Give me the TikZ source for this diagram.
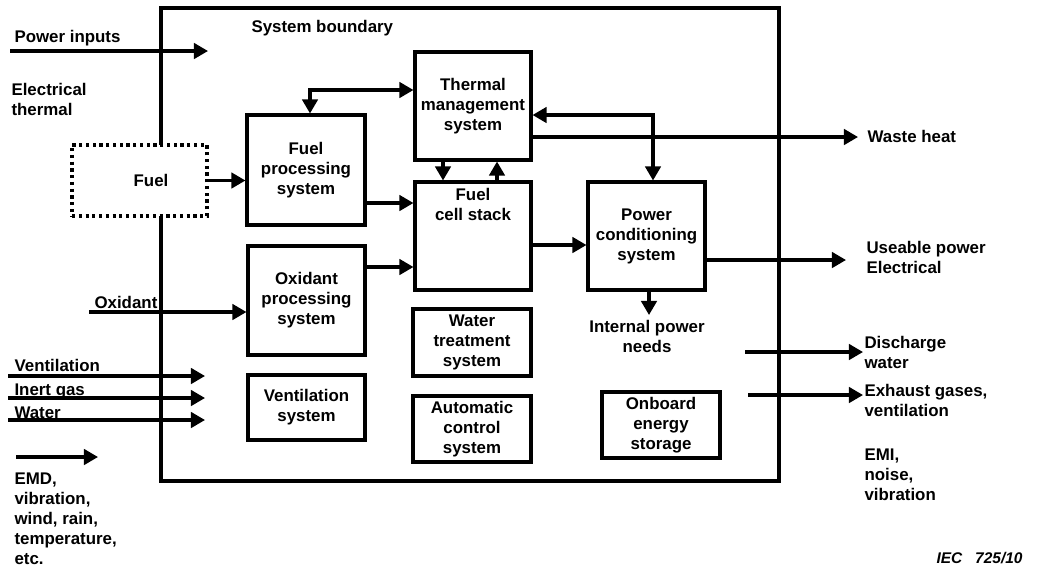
\documentclass[tikz,border=0pt]{standalone}
\usepackage{fontspec}
\setmainfont{Liberation Sans}
\usetikzlibrary{arrows.meta}

\begin{document}
\begin{tikzpicture}[x = 0.025cm, y = -0.025cm, line width = 2.2pt,
        every node/.style = {font = \fontsize{12}{14.2}\selectfont\bfseries},
        block/.style 2 args = {draw, align = center, inner sep = 0pt,
            minimum width = #1*0.025cm, minimum height = #2*0.025cm},
        fuelbox/.style = {draw, fill = white, dash pattern = on 2.2pt off 2.6pt,
            minimum width = 135*0.025cm, minimum height = 71*0.025cm},
        lbl/.style = {align = left, inner sep = 0pt, anchor = north west},
        arr/.style = {-{Triangle[length = 10pt, width = 11pt]}},
        dblarr/.style = {{Triangle[length = 10pt, width = 11pt]}-{Triangle[length = 10pt, width = 11pt]}}]
    \useasboundingbox (0,0) rectangle (1056,568);
    % system boundary
    \draw (161,8) rectangle (779,481);
    \node[lbl] (sbl) at (250,19) {System boundary};

    % blocks
    \node[block = {118}{110}] (fps) at (306,170) {Fuel\\processing\\system};
    \node[block = {116}{108}] (tms) at (473,106) {Thermal\\management\\system};
    \node[block = {116}{108}] (fcs) at (473,236) {};
    \node[anchor = north, align = center, inner sep = 0pt] (fcsl) at (473,187) {Fuel\\cell stack};
    \node[block = {117}{108}] (pcs) at (646.5,236) {Power\\conditioning\\system};
    \node[block = {117}{109}] (ops) at (306.5,300.5) {Oxidant\\processing\\system};
    \node[block = {117}{65}] (vs) at (306.5,407.5) {Ventilation\\system};
    \node[block = {118}{67}] (wts) at (472,342.5) {Water\\treatment\\system};
    \node[block = {118}{66}] (acs) at (472,429) {Automatic\\control\\system};
    \node[block = {118}{66}] (oes) at (661,425) {Onboard\\energy\\storage};

    % inputs from the left
    \coordinate (pin0) at (10,51);
    \coordinate (pin1) at (208,51);
    \draw[arr] (pin0) -- (pin1);
    \node[lbl] (pinl) at (13,29) {Power inputs};
    \node[lbl] (elec) at (10,82) {Electrical\\thermal};
    \coordinate (ox0) at (89,312);
    \draw[arr] (ox0) -- (ops.west |- ox0);
    \node[lbl] (oxl) at (93,295) {Oxidant};
    \coordinate (ven0) at (8,376);
    \coordinate (ven1) at (205,376);
    \coordinate (ing0) at (8,398);
    \coordinate (ing1) at (205,398);
    \coordinate (wat0) at (8,420);
    \coordinate (wat1) at (205,420);
    \draw[arr] (ven0) -- (ven1);
    \draw[arr] (ing0) -- (ing1);
    \draw[arr] (wat0) -- (wat1);
    \node[lbl] (venl) at (13,358) {Ventilation};
    \node[lbl] (ingl) at (13,382) {Inert gas};
    \node[lbl] (watl) at (13,405) {Water};
    \coordinate (emd0) at (16,457);
    \coordinate (emd1) at (98,457);
    \draw[arr] (emd0) -- (emd1);
    \node[lbl] (emdl) at (13,471) {EMD,\\vibration,\\wind, rain,\\temperature,\\etc.};

    % fuel sits on the boundary
    \node[fuelbox] (fuel) at (139.5,180.5) {};
    \node (fuell) at (151,180) {Fuel};
    \draw[arr] (fuel.east) -- (fps.west |- fuel.east);

    % flows between blocks
    \coordinate (tf) at (310,90);
    \draw[dblarr] (fps.north -| tf) -- (tf) -- (tms.west |- tf);
    \coordinate (fa) at (0,203);
    \draw[arr] (fps.east |- fa) -- (fcs.west |- fa);
    \coordinate (oa) at (0,267);
    \draw[arr] (ops.east |- oa) -- (fcs.west |- oa);
    \coordinate (td) at (443,0);
    \draw[arr] (tms.south -| td) -- (fcs.north -| td);
    \coordinate (tu) at (497,0);
    \draw[arr] (fcs.north -| tu) -- (tms.south -| tu);
    \coordinate (tp) at (653,115);
    \draw[dblarr] (tms.east |- tp) -- (tp) -- (pcs.north -| tp);
    \coordinate (fp) at (0,245);
    \draw[arr] (fcs.east |- fp) -- (pcs.west |- fp);

    % outputs to the right
    \coordinate (wst) at (858,137);
    \draw[arr] (tms.east |- wst) -- (wst);
    \node[lbl] (wstl) at (866,129) {Waste heat};
    \coordinate (use) at (846,260);
    \draw[arr] (pcs.east |- use) -- (use);
    \node[lbl] (usel) at (865,240) {Useable power\\Electrical};
    \coordinate (ipn) at (649,315);
    \draw[arr] (pcs.south -| ipn) -- (ipn);
    \node[lbl, anchor = north, align = center] (ipnl) at (647,319) {Internal power\\needs};
    \coordinate (dw0) at (745,352);
    \coordinate (dw1) at (863,352);
    \draw[arr] (dw0) -- (dw1);
    \node[lbl] (dwl) at (863,335) {Discharge\\water};
    \coordinate (ex0) at (748,395);
    \coordinate (ex1) at (863,395);
    \draw[arr] (ex0) -- (ex1);
    \node[lbl] (exl) at (863,383) {Exhaust gases,\\ventilation};
    \node[lbl] (emil) at (863,447) {EMI,\\noise,\\vibration};
    \node[lbl, font = \fontsize{11}{13}\selectfont\bfseries\itshape] (iec) at (935,551) {IEC\ \ \ 725/10};
\end{tikzpicture}
\end{document}
